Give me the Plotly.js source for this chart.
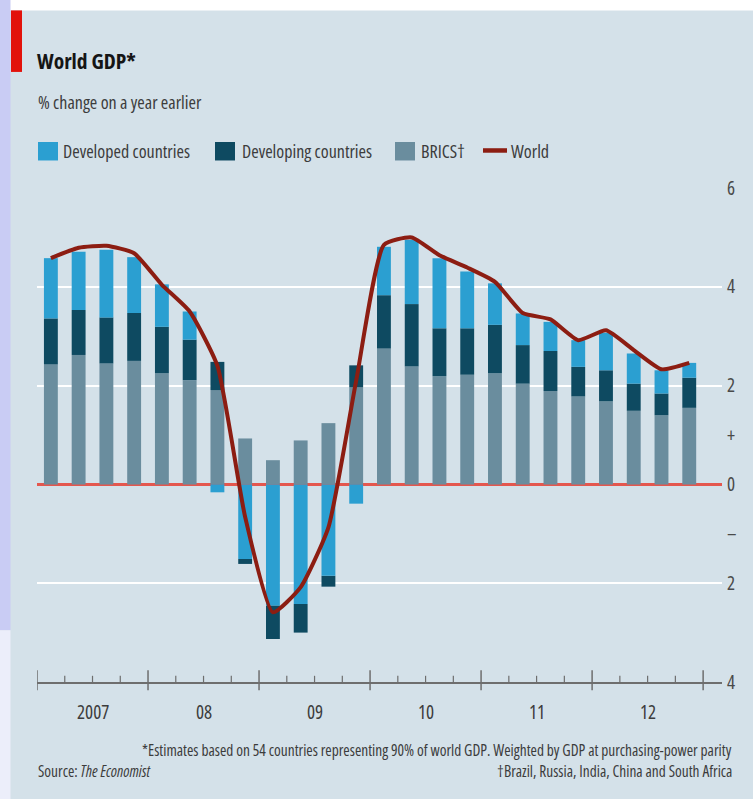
<!DOCTYPE html>
<html>
<head>
<meta charset="utf-8">
<script src="https://cdn.plot.ly/plotly-3.0.1.min.js"></script>
<style>
  html, body { margin: 0; padding: 0; background: #ffffff; }
  #chart { width: 753px; height: 799px; }
  svg text { font-stretch: condensed; }
</style>
</head>
<body>
<div id="chart"></div>
<script>
// ---- Data, quarterly 2007Q1 - 2012Q4 ----
const quarters = [
  '2007 Q1','2007 Q2','2007 Q3','2007 Q4',
  '2008 Q1','2008 Q2','2008 Q3','2008 Q4',
  '2009 Q1','2009 Q2','2009 Q3','2009 Q4',
  '2010 Q1','2010 Q2','2010 Q3','2010 Q4',
  '2011 Q1','2011 Q2','2011 Q3','2011 Q4',
  '2012 Q1','2012 Q2','2012 Q3','2012 Q4'
];
const yearLabels = ['2007', '08', '09', '10', '11', '12'];

const brics      = [2.43, 2.62, 2.45, 2.50, 2.25, 2.11, 1.91, 0.93, 0.49, 0.89, 1.24, 1.97,
                    2.75, 2.39, 2.19, 2.22, 2.25, 2.04, 1.89, 1.78, 1.68, 1.49, 1.40, 1.55];
const developing = [0.93, 0.91, 0.93, 0.97, 0.94, 0.82, 0.57, -0.10, -0.68, -0.58, -0.22, 0.44,
                    1.08, 1.26, 0.97, 0.94, 0.98, 0.78, 0.81, 0.60, 0.63, 0.55, 0.44, 0.61];
const developed  = [1.22, 1.18, 1.37, 1.13, 0.86, 0.57, -0.16, -1.51, -2.45, -2.42, -1.85, -0.39,
                    0.98, 1.30, 1.42, 1.15, 0.84, 0.64, 0.59, 0.54, 0.76, 0.61, 0.47, 0.30];
const world      = [4.58, 4.79, 4.83, 4.68, 4.04, 3.50, 2.40, -0.66, -2.59, -2.08, -0.87, 2.10,
                    4.85, 5.00, 4.64, 4.39, 4.10, 3.47, 3.34, 2.92, 3.12, 2.72, 2.33, 2.46];

const yTickVals = [6, 4, 2, 1, 0, -1, -2, -4];
const yTickText = ['6', '4', '2', '+', '0', '\u2013', '2', '4'];

// ---- Styles ----
const C_PANEL = '#d4e1e9';
const C_DEVELOPED = '#2b9fd1';
const C_DEVELOPING = '#0e4a61';
const C_BRICS = '#6a8d9e';
const C_WORLD = '#8c1d12';
const C_TEXT = '#3c3c3c';
const FONT = '"Open Sans", "Liberation Sans", sans-serif';

// Stacking: positives BRICs -> Developing -> Developed upward;
// negatives Developed then Developing downward from zero.
const x = quarters.map((q, i) => i);
const pos = v => Math.max(v, 0), neg = v => Math.min(v, 0);
const baseBrics = brics.map(v => 0);
const baseDeveloping = developing.map((v, i) => v >= 0 ? pos(brics[i]) : neg(developed[i]) + neg(brics[i]));
const baseDeveloped = developed.map((v, i) => v >= 0 ? pos(brics[i]) + pos(developing[i]) : neg(brics[i]));

const BARW = 0.5;
const traces = [
  { type: 'bar', name: 'BRICS\u2020', x: x, y: brics, base: baseBrics, width: BARW, textposition: 'none',
    marker: { color: C_BRICS }, customdata: quarters, hovertemplate: '%{customdata}: %{y}<extra>BRICS</extra>' },
  { type: 'bar', name: 'Developing countries', x: x, y: developing, base: baseDeveloping, width: BARW, textposition: 'none',
    marker: { color: C_DEVELOPING }, customdata: quarters, hovertemplate: '%{customdata}: %{y}<extra>Developing</extra>' },
  { type: 'bar', name: 'Developed countries', x: x, y: developed, base: baseDeveloped, width: BARW, textposition: 'none',
    marker: { color: C_DEVELOPED }, customdata: quarters, hovertemplate: '%{customdata}: %{y}<extra>Developed</extra>' },
  { type: 'scatter', mode: 'lines', name: 'World', x: x, y: world,
    line: { color: C_WORLD, width: 4, shape: 'spline', smoothing: 0.5 }, customdata: quarters,
    hovertemplate: '%{customdata}: %{y}<extra>World</extra>' },
  { type: 'scatter', mode: 'markers', x: [0], y: [0], yaxis: 'y2', showlegend: false,
    marker: { opacity: 0 }, hoverinfo: 'skip' }
];

// ---- Geometry helpers (pixel -> paper) ----
const L = 37, R = 722, T = 188, B = 681.7;
const W = R - L, H = B - T;
const px = p => (p - L) / W;
const py = p => (B - p) / H;

const shapes = [];
shapes.push({ type: 'rect', xref: 'paper', yref: 'paper', x0: px(0), x1: px(753), y0: py(0), y1: py(10.5),
  fillcolor: '#ffffff', line: { width: 0 }, layer: 'below' });
shapes.push({ type: 'rect', xref: 'paper', yref: 'paper', x0: px(0), x1: px(10.5), y0: py(0), y1: py(630),
  fillcolor: '#c9ccf4', line: { width: 0 }, layer: 'below' });
shapes.push({ type: 'rect', xref: 'paper', yref: 'paper', x0: px(0), x1: px(10.5), y0: py(630), y1: py(799),
  fillcolor: '#eceefa', line: { width: 0 }, layer: 'below' });
shapes.push({ type: 'rect', xref: 'paper', yref: 'paper', x0: px(11), x1: px(22), y0: py(10.5), y1: py(72),
  fillcolor: '#e2120b', line: { width: 0 } });

const nQ = quarters.length;
for (let k = 0; k <= nQ; k++) {
  const xv = k - 0.5;
  const major = (k % 4 === 0);
  shapes.push({ type: 'line', xref: 'x', yref: 'paper', x0: xv, x1: xv,
    y0: py(major ? 690 : 682), y1: py(major ? 670 : 675.5),
    line: { color: '#6e6e6e', width: major ? 1.5 : 1.2 } });
}

const legendItems = [
  { label: 'Developed countries', color: C_DEVELOPED, sx: 38, tx: 61 },
  { label: 'Developing countries', color: C_DEVELOPING, sx: 215, tx: 240 },
  { label: 'BRICS\u2020', color: C_BRICS, sx: 395, tx: 419 }
];
const annotations = [];
legendItems.forEach(it => {
  shapes.push({ type: 'rect', xref: 'paper', yref: 'paper', x0: px(it.sx), x1: px(it.sx + 20),
    y0: py(160.5), y1: py(142), fillcolor: it.color, line: { width: 0 } });
  annotations.push({ xref: 'paper', yref: 'paper', x: px(it.tx), y: py(151.5), text: it.label,
    showarrow: false, xanchor: 'left', yanchor: 'middle', font: { family: FONT, size: 18, color: C_TEXT } });
});
shapes.push({ type: 'line', xref: 'paper', yref: 'paper', x0: px(483), x1: px(507), y0: py(150.5), y1: py(150.5),
  line: { color: C_WORLD, width: 4.5 } });
annotations.push({ xref: 'paper', yref: 'paper', x: px(509), y: py(151.5), text: 'World',
  showarrow: false, xanchor: 'left', yanchor: 'middle', font: { family: FONT, size: 18, color: C_TEXT } });

yearLabels.forEach((lab, k) => {
  annotations.push({ xref: 'x', yref: 'paper', x: 4 * k + 1.5, y: py(712), text: lab, showarrow: false,
    xanchor: 'center', yanchor: 'middle', font: { family: FONT, size: 19, color: C_TEXT } });
});

annotations.push({ xref: 'paper', yref: 'paper', x: px(35), y: py(61), text: '<b>World GDP*</b>',
  showarrow: false, xanchor: 'left', yanchor: 'middle', font: { family: FONT, size: 21.5, color: '#151515' } });
annotations.push({ xref: 'paper', yref: 'paper', x: px(36), y: py(102), text: '% change on a year earlier',
  showarrow: false, xanchor: 'left', yanchor: 'middle', font: { family: FONT, size: 18, color: C_TEXT } });
annotations.push({ xref: 'paper', yref: 'paper', x: px(734), y: py(750), text:
  '*Estimates based on 54 countries representing 90% of world GDP. Weighted by GDP at purchasing-power parity',
  showarrow: false, xanchor: 'right', yanchor: 'middle', font: { family: FONT, size: 15.4, color: C_TEXT } });
annotations.push({ xref: 'paper', yref: 'paper', x: px(734), y: py(771), text:
  '\u2020Brazil, Russia, India, China and South Africa',
  showarrow: false, xanchor: 'right', yanchor: 'middle', font: { family: FONT, size: 15.4, color: C_TEXT } });
annotations.push({ xref: 'paper', yref: 'paper', x: px(36), y: py(771), text: 'Source: <i>The Economist</i>',
  showarrow: false, xanchor: 'left', yanchor: 'middle', font: { family: FONT, size: 15.4, color: C_TEXT } });

const layout = {
  width: 753, height: 799,
  margin: { l: L, r: 753 - R, t: T, b: 799 - B, pad: 0 },
  paper_bgcolor: C_PANEL,
  plot_bgcolor: C_PANEL,
  barmode: 'overlay',
  showlegend: false,
  font: { family: FONT, color: C_TEXT },
  xaxis: {
    range: [-0.5, 24.18], showgrid: false, zeroline: false, fixedrange: true,
    showline: true, linecolor: '#6e6e6e', linewidth: 1.5, ticks: '', showticklabels: false
  },
  yaxis: {
    range: [-4, 6], tickvals: [-2, 2, 4, 6], showticklabels: false, ticks: '',
    showgrid: true, gridcolor: '#ffffff', gridwidth: 2.2,
    zeroline: true, zerolinecolor: '#e4574e', zerolinewidth: 2.2, fixedrange: true
  },
  yaxis2: {
    overlaying: 'y', side: 'right', anchor: 'x', range: [-4, 6],
    tickvals: yTickVals, ticktext: yTickText, showgrid: false, zeroline: false,
    ticks: '', ticklabelstandoff: 4, tickfont: { family: FONT, size: 19, color: '#4a4a4a' }, fixedrange: true
  },
  shapes: shapes,
  annotations: annotations
};

Plotly.newPlot('chart', traces, layout, { displayModeBar: false, staticPlot: true });
</script>
</body>
</html>
